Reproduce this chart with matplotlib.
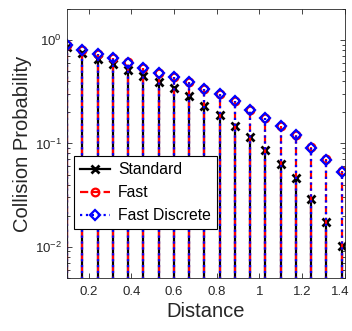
import matplotlib
matplotlib.use("Agg")
import matplotlib.pyplot as plt
import matplotlib.transforms as mtransforms
from matplotlib.legend_handler import HandlerLine2D
from matplotlib.ticker import FixedLocator, FixedFormatter, LogLocator, NullFormatter

distance = [0.100, 0.171, 0.243, 0.314, 0.386, 0.457, 0.529, 0.600, 0.671, 0.743,
            0.814, 0.886, 0.957, 1.029, 1.100, 1.171, 1.243, 1.314, 1.386]
standard = [0.86, 0.76, 0.665, 0.595, 0.52, 0.455, 0.395, 0.343, 0.287, 0.23,
            0.19, 0.149, 0.116, 0.086, 0.063, 0.0465, 0.029, 0.0175, 0.0101]
fast = [0.91, 0.81, 0.74, 0.68, 0.61, 0.545, 0.485, 0.44, 0.395, 0.34,
        0.30, 0.26, 0.21, 0.175, 0.148, 0.121, 0.092, 0.07, 0.054]
fast_discrete = [0.905, 0.805, 0.74, 0.675, 0.605, 0.545, 0.485, 0.44, 0.395, 0.34,
                 0.30, 0.26, 0.21, 0.175, 0.148, 0.12, 0.091, 0.069, 0.053]
xtick_vals = [0.2, 0.4, 0.6, 0.8, 1.0, 1.2, 1.4]
xtick_labels = ["0.2", "0.4", "0.6", "0.8", "1", "1.2", "1.4"]

GRAY = "#262626"
plt.rcParams["font.family"] = ["Liberation Sans", "DejaVu Sans"]


class EndMarkerHandler(HandlerLine2D):
    # marker drawn at the right end of the legend line, as in MATLAB
    def get_xdata(self, legend, xdescent, ydescent, width, height, fontsize):
        xdata = [-xdescent, -xdescent + width]
        return xdata, [-xdescent + width]


def main():
    fig = plt.figure(figsize=(3.52, 3.31), dpi=100)
    ax = fig.add_axes([0.191, 0.161, 0.788, 0.811])
    ax.set_yscale("log")

    series = [
        (standard, "k", "-", "x", "Standard", dict(markersize=5.5, markeredgewidth=2)),
        (fast, "r", "--", "o", "Fast", dict(markersize=5.5, markeredgewidth=1.6, markerfacecolor="none")),
        (fast_discrete, "b", ":", "D", "Fast Discrete", dict(markersize=5, markeredgewidth=1.6, markerfacecolor="none")),
    ]
    handles = []
    for vals, col, ls, mk, lab, mkw in series:
        cont = ax.stem(distance, vals, bottom=1e-4)
        cont.stemlines.set_color(col)
        cont.stemlines.set_linestyle(ls)
        cont.stemlines.set_linewidth(1.6)
        cont.baseline.set_visible(False)
        cont.markerline.set_color(col)
        cont.markerline.set_marker(mk)
        for k, v in mkw.items():
            getattr(cont.markerline, "set_" + k)(v)
        h, = ax.plot([], [], color=col, linestyle=ls, linewidth=1.6, marker=mk, label=lab, **mkw)
        handles.append(h)

    ax.set_xlim(0.1, 1.4)
    ax.set_ylim(0.005, 2)

    ax.xaxis.set_major_locator(FixedLocator(xtick_vals))
    ax.xaxis.set_major_formatter(FixedFormatter(xtick_labels))
    ax.yaxis.set_major_locator(LogLocator(base=10, numticks=10))
    ax.yaxis.set_minor_locator(LogLocator(base=10, subs=range(2, 10), numticks=10))
    ax.yaxis.set_minor_formatter(NullFormatter())

    ax.tick_params(which="both", direction="in", top=True, right=True,
                   colors=GRAY, labelsize=9.5, width=0.6)
    ax.tick_params(which="major", length=3.5)
    ax.tick_params(which="minor", length=2)
    ax.tick_params(axis="x", pad=6)
    ax.tick_params(axis="y", pad=4)
    for sp in ax.spines.values():
        sp.set_color(GRAY)
        sp.set_linewidth(0.6)

    # nudge the last x label so it stays inside the figure
    last = ax.get_xticklabels()[-1]
    last.set_transform(last.get_transform() +
                       mtransforms.ScaledTranslation(-3.5 / 72, 0, fig.dpi_scale_trans))

    ax.set_xlabel("Distance", fontsize=14.5, color=GRAY, labelpad=3)
    ax.set_ylabel("Collision Probability", fontsize=14.5, color=GRAY, labelpad=2)

    leg = ax.legend(handles=handles, loc="upper left", bbox_to_anchor=(0.024, 0.453),
                    borderaxespad=0, fontsize=11.3, fancybox=False, framealpha=1,
                    edgecolor="k", handlelength=1.9, handletextpad=0.5,
                    labelspacing=0.5, borderpad=0.4,
                    handler_map={h: EndMarkerHandler() for h in handles})
    leg.get_frame().set_linewidth(0.8)

    fig.savefig("out.png", dpi=100)


if __name__ == "__main__":
    main()
